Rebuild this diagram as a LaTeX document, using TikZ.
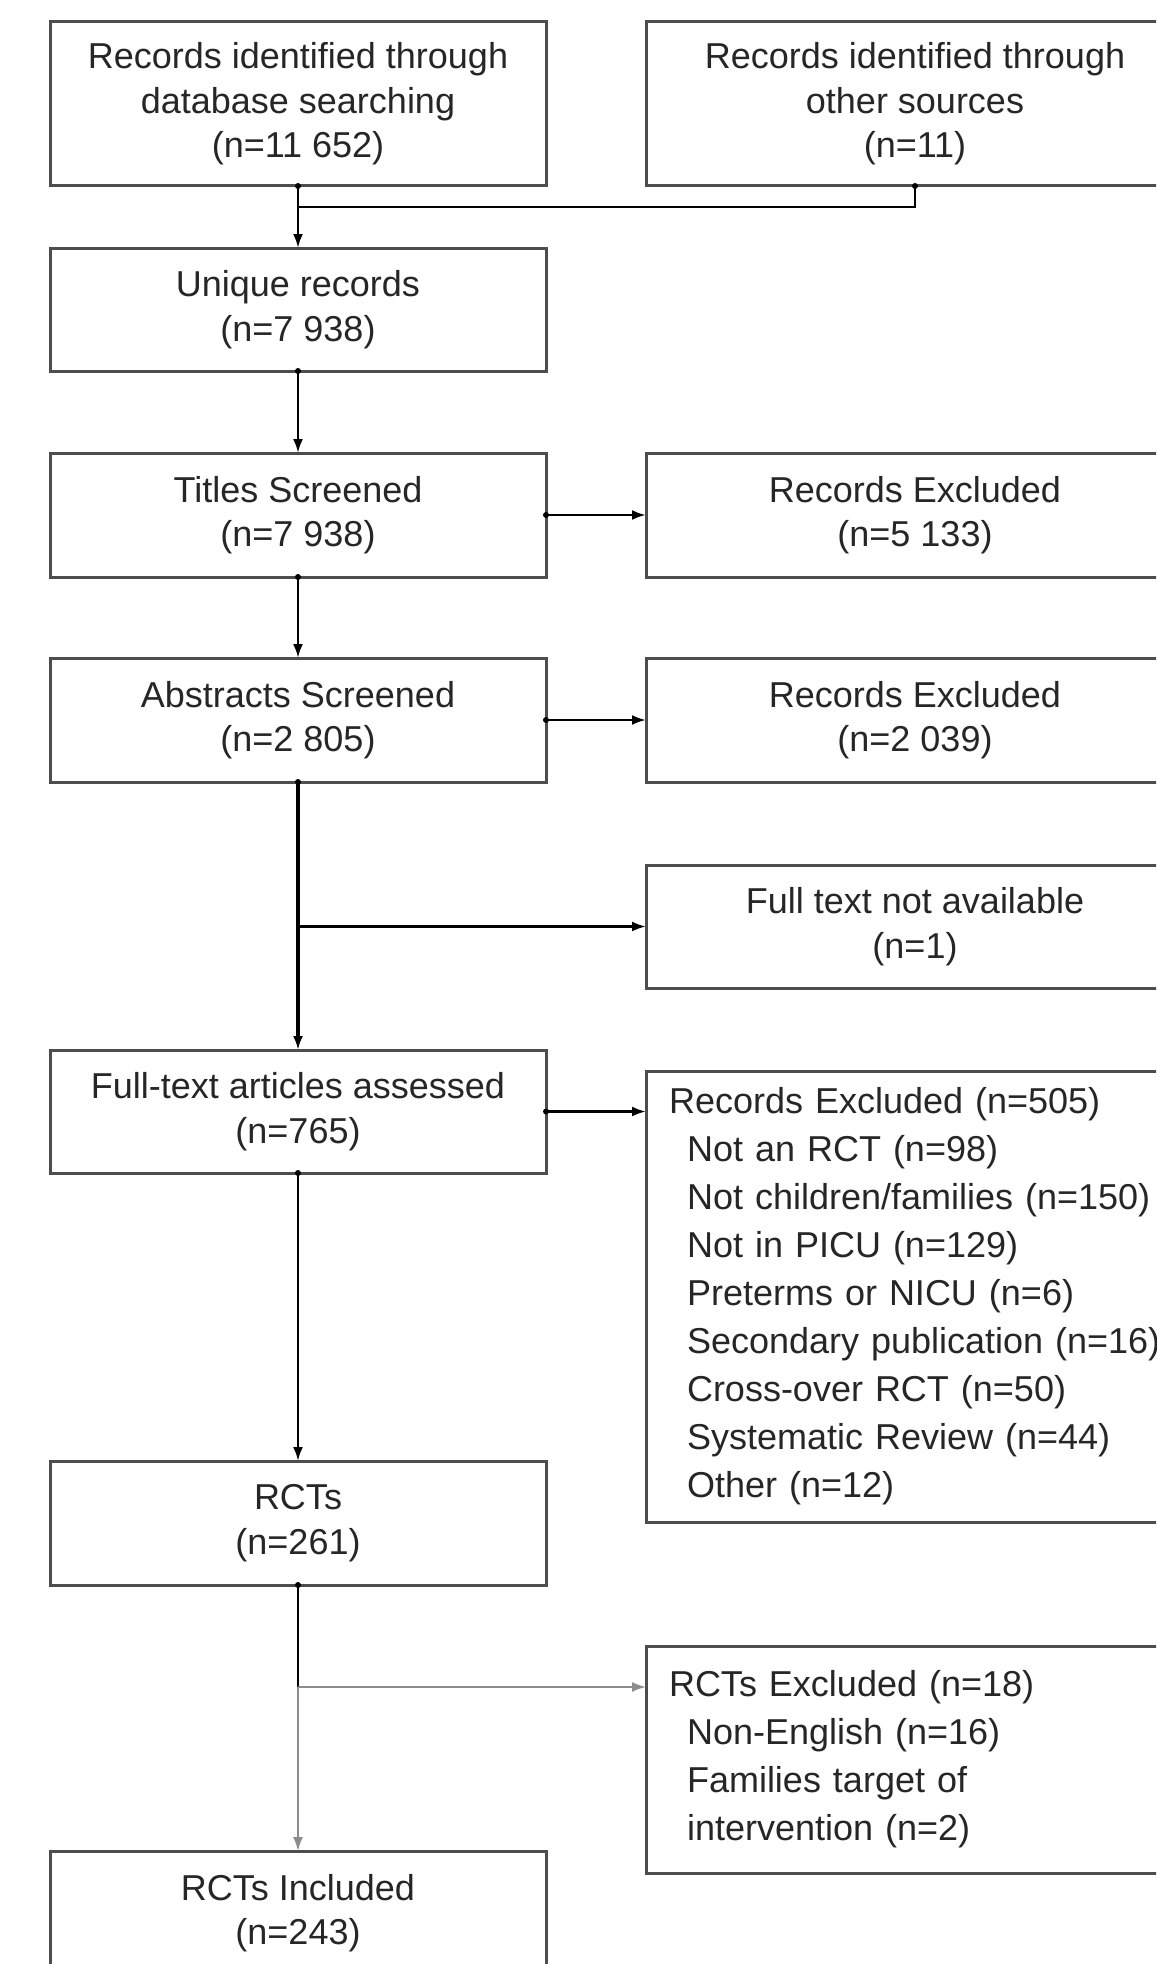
\documentclass[tikz,border=0pt]{standalone}
\usepackage{fontspec}
\setmainfont{Liberation Sans}
\usetikzlibrary{arrows.meta}
\definecolor{boxgray}{RGB}{77,77,77}
\definecolor{linegray}{RGB}{140,140,140}
\tikzset{
  box/.style={draw=boxgray, line width=3pt, outer sep=0pt, inner sep=0pt,
    font={\fontsize{36pt}{44.5pt}\selectfont}, align=center, text=black!85},
  lbox/.style={box, align=left, text width=#1, inner xsep=23pt,
    font={\fontsize{36pt}{48pt}\selectfont}},
  conn/.style={line width=2.5pt, black},
  arr/.style={conn, -{Latex[length=14pt,width=10pt]}},
  garr/.style={line width=2pt, linegray, -{Latex[length=14pt,width=10pt]}},
  dotstart/.style={fill=black},
}
\newcommand{\ind}{\hspace*{18pt}}
\begin{document}
\begin{tikzpicture}[x=1pt,y=-1pt]
\useasboundingbox (0,0) rectangle (1156,1964);
\clip (0,0) rectangle (1156,1964);
\fill[white] (0,0) rectangle (1156,1964);

% left column
\node[box, minimum width=496pt, minimum height=164pt] (b1) at (298,104)
  {Records identified through\\database searching\\(n=11 652)};
\node[box, minimum width=496pt, minimum height=123pt] (uniq) at (298,309.5)
  {Unique records\\(n=7 938)};
\node[box, minimum width=496pt, minimum height=124pt] (titles) at (298,515)
  {Titles Screened\\(n=7 938)};
\node[box, minimum width=496pt, minimum height=124pt] (abs) at (298,720)
  {Abstracts Screened\\(n=2 805)};
\node[box, minimum width=496pt, minimum height=123pt] (fta) at (298,1111.5)
  {Full-text articles assessed\\(n=765)};
\node[box, minimum width=496pt, minimum height=124pt] (rcts) at (298,1523)
  {RCTs\\(n=261)};
\node[box, minimum width=496pt, minimum height=124pt] (incl) at (298,1913)
  {RCTs Included\\(n=243)};

% right column
\node[box, minimum width=538pt, minimum height=164pt] (b2) at (915,104)
  {Records identified through\\other sources\\(n=11)};
\node[box, minimum width=538pt, minimum height=124pt] (ex1) at (915,515)
  {Records Excluded\\(n=5 133)};
\node[box, minimum width=538pt, minimum height=124pt] (ex2) at (915,720)
  {Records Excluded\\(n=2 039)};
\node[box, minimum width=538pt, minimum height=123pt] (ftna) at (915,926.5)
  {Full text not available\\(n=1)};
\node[lbox=492pt, minimum height=451pt] (ex3) at (915,1296.5)
  {Records Excluded (n=505)\\
   \ind Not an RCT (n=98)\\
   \ind Not children/families (n=150)\\
   \ind Not in PICU (n=129)\\
   \ind Preterms or NICU (n=6)\\
   \ind Secondary publication (n=16)\\
   \ind Cross-over RCT (n=50)\\
   \ind Systematic Review (n=44)\\
   \ind Other (n=12)};
\node[lbox=492pt, minimum height=227pt] (ex4) at (915,1759.5)
  {RCTs Excluded (n=18)\\
   \ind Non-English (n=16)\\
   \ind Families target of\\
   \ind intervention (n=2)};

% junctions
\coordinate (j1) at (298,207);
\coordinate (j2) at (298,926.5);
\coordinate (j3) at (298,1687);

% connectors
\draw[conn] (b2.south) |- (j1);
\draw[arr] (b1.south) -- (uniq.north);
\draw[arr] (uniq.south) -- (titles.north);
\draw[arr] (titles.east) -- (ex1.west);
\draw[arr] (titles.south) -- (abs.north);
\draw[arr] (abs.east) -- (ex2.west);
\draw[arr, line width=3.5pt] (abs.south) -- (fta.north);
\draw[arr] (j2) -- (ftna.west);
\draw[arr] (fta.east) -- (fta.east -| ex3.west);
\draw[arr] (fta.south) -- (rcts.north);
\draw[conn] (rcts.south) -- (j3);
\draw[garr] (j3) -- (incl.north);
\draw[garr] (j3) -- (j3 -| ex4.west);

% start dots
\foreach \p in {b1.south,b2.south,uniq.south,titles.south,titles.east,abs.south,abs.east,fta.east,fta.south,rcts.south}
  \fill[dotstart] (\p) circle (3pt);
\end{tikzpicture}
\end{document}
